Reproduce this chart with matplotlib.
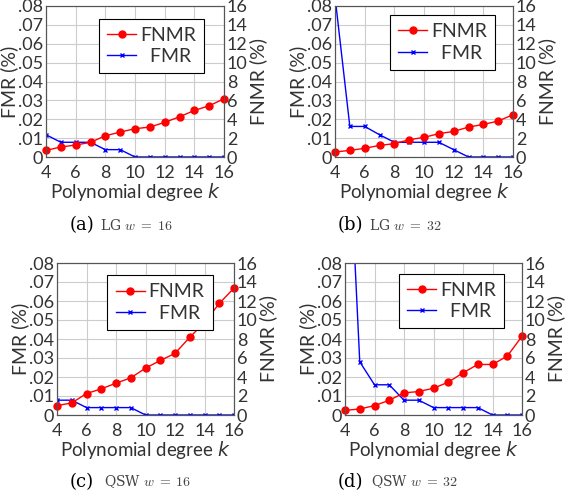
import numpy as np
import matplotlib
matplotlib.use("Agg")
import matplotlib.pyplot as plt

k = [4, 5, 6, 7, 8, 9, 10, 11, 12, 13, 14, 15, 16]

# FNMR in %, FMR in %
fnmr_lg16 = [0.70, 1.06, 1.27, 1.55, 2.25, 2.64, 3.0, 3.17, 3.67, 4.26, 4.93, 5.43, 6.17]
fmr_lg16 = [0.0118, 0.0078, 0.0078, 0.0078, 0.0039, 0.0039, 0, 0, 0, 0, 0, 0, 0]

fnmr_lg32 = [0.53, 0.70, 0.92, 1.23, 1.41, 1.83, 2.08, 2.47, 2.71, 3.17, 3.45, 3.81, 4.48]
fmr_lg32 = [0.085, 0.0162, 0.0162, 0.0118, 0.0078, 0.0078, 0.0078, 0.0078, 0.0039, 0, 0, 0, 0]

fnmr_qsw16 = [0.99, 1.27, 2.26, 2.75, 3.35, 3.91, 4.93, 5.74, 6.48, 8.18, 9.73, 11.74, 13.36]
fmr_qsw16 = [0.0078, 0.0078, 0.0039, 0.0039, 0.0039, 0.0039, 0, 0, 0, 0, 0, 0, 0]

fnmr_qsw32 = [0.49, 0.63, 0.99, 1.55, 2.33, 2.47, 2.82, 3.45, 4.44, 5.32, 5.32, 6.2, 8.28]
fmr_qsw32 = [0.19, 0.028, 0.0159, 0.0159, 0.0078, 0.0078, 0.0039, 0.0039, 0.0039, 0.0039, 0, 0, 0]

captions = [("(a)", "LG", "16"), ("(b)", "LG", "32"), ("(c)", "QSW", "16"), ("(d)", "QSW", "32")]

plt.rcParams['font.family'] = ['Lato', 'DejaVu Sans']

W, H = 566, 493
fig = plt.figure(figsize=(W / 100, H / 100), dpi=100)

# axes boxes in pixels: left, top, right, bottom
boxes = [(46, 6, 224, 157), (335, 6, 513, 157), (57, 263, 234, 415), (345, 263, 522, 415)]
legend_anchor = [(0.89, 0.915), (0.90, 0.94), (0.88, 0.92), (0.90, 0.93)]
# caption x positions (label left, text left) and y, in pixels
cap_pos = [(70, 100, 225), (338, 369, 225), (70, 104, 482), (338, 371, 482)]
data = [(fnmr_lg16, fmr_lg16), (fnmr_lg32, fmr_lg32), (fnmr_qsw16, fmr_qsw16), (fnmr_qsw32, fmr_qsw32)]

txt = '#333333'
fs = 13

for i, (l, t, r, b) in enumerate(boxes):
    ax = fig.add_axes([l / W, 1 - b / H, (r - l) / W, (b - t) / H])
    ax2 = ax.twinx()
    fnmr, fmr = data[i]
    ax.set_xlim(4, 16)
    ax.set_ylim(0, 0.08)
    ax2.set_ylim(0, 16)
    ax.set_xticks(range(4, 17, 2))
    ax.set_yticks(np.arange(0, 0.081, 0.01))
    ax.set_yticklabels(['0'] + ['.0%d' % j for j in range(1, 9)])
    ax2.set_yticks(range(0, 17, 2))
    ax.grid(True, color='#cccccc', linewidth=0.8)
    ax.set_axisbelow(True)

    l2, = ax2.plot(k, fnmr, color='red', marker='o', markersize=5, linewidth=1.0, label='FNMR', clip_on=False)
    l1, = ax.plot(k, fmr, color='blue', marker='x', markersize=3.5, markeredgewidth=1.0, linewidth=1.0, label='FMR')

    for a in (ax, ax2):
        a.tick_params(labelsize=fs, colors=txt, length=0, pad=2)
        for s in a.spines.values():
            s.set_color('#555555')
            s.set_linewidth(0.8)
    ax.tick_params(axis='x', pad=6)
    ax.set_ylabel('FMR (%)', fontsize=14, color=txt, labelpad=0)
    ax2.set_ylabel('FNMR (%)', fontsize=14, color=txt, labelpad=1)
    ax.set_xlabel('Polynomial degree $k$', fontsize=13.5, color=txt, labelpad=0,
                  math_fontfamily='dejavusans')

    leg = ax2.legend([l2, l1], ['FNMR', '  FMR'], loc='upper right', bbox_to_anchor=legend_anchor[i],
                     borderaxespad=0, fancybox=False, edgecolor='black', framealpha=1, fontsize=14,
                     borderpad=0.42, handlelength=1.5, labelspacing=0.22, handletextpad=0.2)
    leg.get_frame().set_linewidth(0.8)
    for tx in leg.get_texts():
        tx.set_color(txt)

    x1, x2, y = cap_pos[i]
    lab, name, w = captions[i]
    fig.text(x1 / W, 1 - y / H, lab, fontsize=13, family='DejaVu Serif', ha='left', va='center')
    fig.text(x2 / W, 1 - y / H, name + r' $w\;=\;%s$' % w, fontsize=10, family='DejaVu Serif', color='#444444',
             ha='left', va='center', math_fontfamily='cm')

fig.savefig('out.png', dpi=100)
